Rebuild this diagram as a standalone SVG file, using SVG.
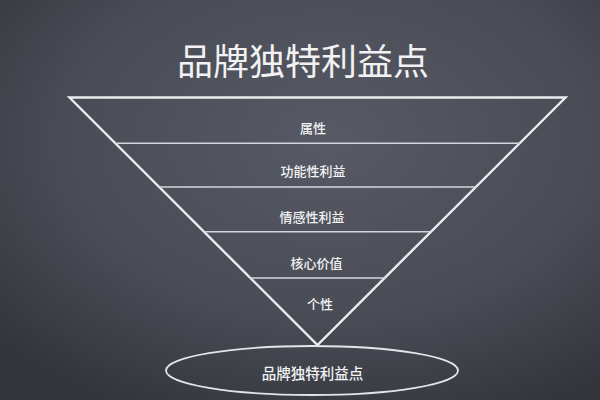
<svg xmlns="http://www.w3.org/2000/svg" width="600" height="400" viewBox="0 0 600 400">
  <defs>
    <radialGradient id="board" cx="55%" cy="35%" r="75%">
      <stop offset="0" stop-color="#575a64"/>
      <stop offset="0.6" stop-color="#494c55"/>
      <stop offset="1" stop-color="#33353b"/>
    </radialGradient>
    <style>
      .t { font-family: "Noto Sans CJK SC", "Noto Sans", sans-serif; fill: #f2f2f4; text-anchor: middle; dominant-baseline: central; }
      .lbl { font-size: 13px; font-weight: 500; }
      .edge { fill: none; stroke: #ececf0; stroke-width: 2.4; stroke-linejoin: miter; }
      .div { stroke: #d4d6dc; stroke-width: 1.6; }
    </style>
  </defs>
  <rect width="600" height="400" fill="url(#board)"/>

  <g id="title">
    <text class="t" x="303" y="59" font-size="36">品牌独特利益点</text>
  </g>

  <g id="funnel">
    <polygon class="edge" points="69.5,97.5 565.5,97.5 317.5,345"/>
  </g>

  <g id="dividers">
    <line class="div" x1="115" y1="143.3" x2="520" y2="143.3"/>
    <line class="div" x1="159" y1="187" x2="476" y2="187"/>
    <line class="div" x1="204" y1="231.8" x2="431" y2="231.8"/>
    <line class="div" x1="250" y1="278" x2="385" y2="278"/>
  </g>

  <g id="layer-attribute">
    <text class="t lbl" x="313" y="127">属性</text>
  </g>
  <g id="layer-functional">
    <text class="t lbl" x="313" y="170">功能性利益</text>
  </g>
  <g id="layer-emotional">
    <text class="t lbl" x="312" y="216">情感性利益</text>
  </g>
  <g id="layer-core">
    <text class="t lbl" x="316.5" y="262.5">核心价值</text>
  </g>
  <g id="layer-personality">
    <text class="t lbl" x="320" y="303">个性</text>
  </g>

  <g id="usp">
    <ellipse cx="312" cy="370.5" rx="146" ry="24.5" fill="none" stroke="#e4e5ea" stroke-width="1.8"/>
    <text class="t" x="312.5" y="372.5" font-size="14.5" font-weight="500">品牌独特利益点</text>
  </g>
</svg>
